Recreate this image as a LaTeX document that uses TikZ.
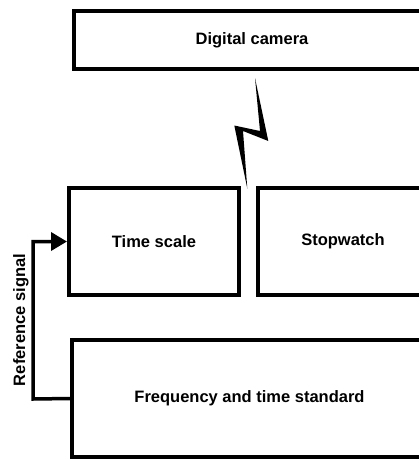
\documentclass[tikz,border=0pt]{standalone}
\usepackage{fontspec}
\setmainfont{Liberation Sans}
\usetikzlibrary{arrows.meta}
\begin{document}
\begin{tikzpicture}[x=1pt,y=-1pt,
  lbl/.style={font=\fontsize{16.5}{19}\selectfont\bfseries},
  box/.style={draw=black, line width=4pt, rectangle, inner sep=0pt, fill=white, lbl},
  sig/.style={line width=3.5pt, -{Triangle[length=16pt,width=18pt]}}]
\useasboundingbox (0,0) rectangle (419,459);
\clip (0,0) rectangle (419,459);
\node[box, minimum width=356pt, minimum height=58pt] (cam) at (252,40) {Digital camera};
\node[box, minimum width=170pt, minimum height=107pt] (ts) at (154,241.5) {Time scale};
\node[box, minimum width=170pt, minimum height=107pt] (sw) at (343,241.5) {Stopwatch};
\node[box, minimum width=355pt, minimum height=117pt] (fs) at (249.5,398.5) {Frequency and time standard};
\coordinate (c1) at (33,399);
\coordinate (c2) at (33,241.5);
\draw[sig] (fs.west) -- (c1) -- (c2) -- (ts.west);
\node[rotate=90, lbl] (ref) at (21,320) {Reference signal};
\fill (255,78) -- (268.3,141) -- (243,131) -- (247.3,188.5) -- (234.3,125.5) -- (260,131) -- cycle;
\end{tikzpicture}
\end{document}
